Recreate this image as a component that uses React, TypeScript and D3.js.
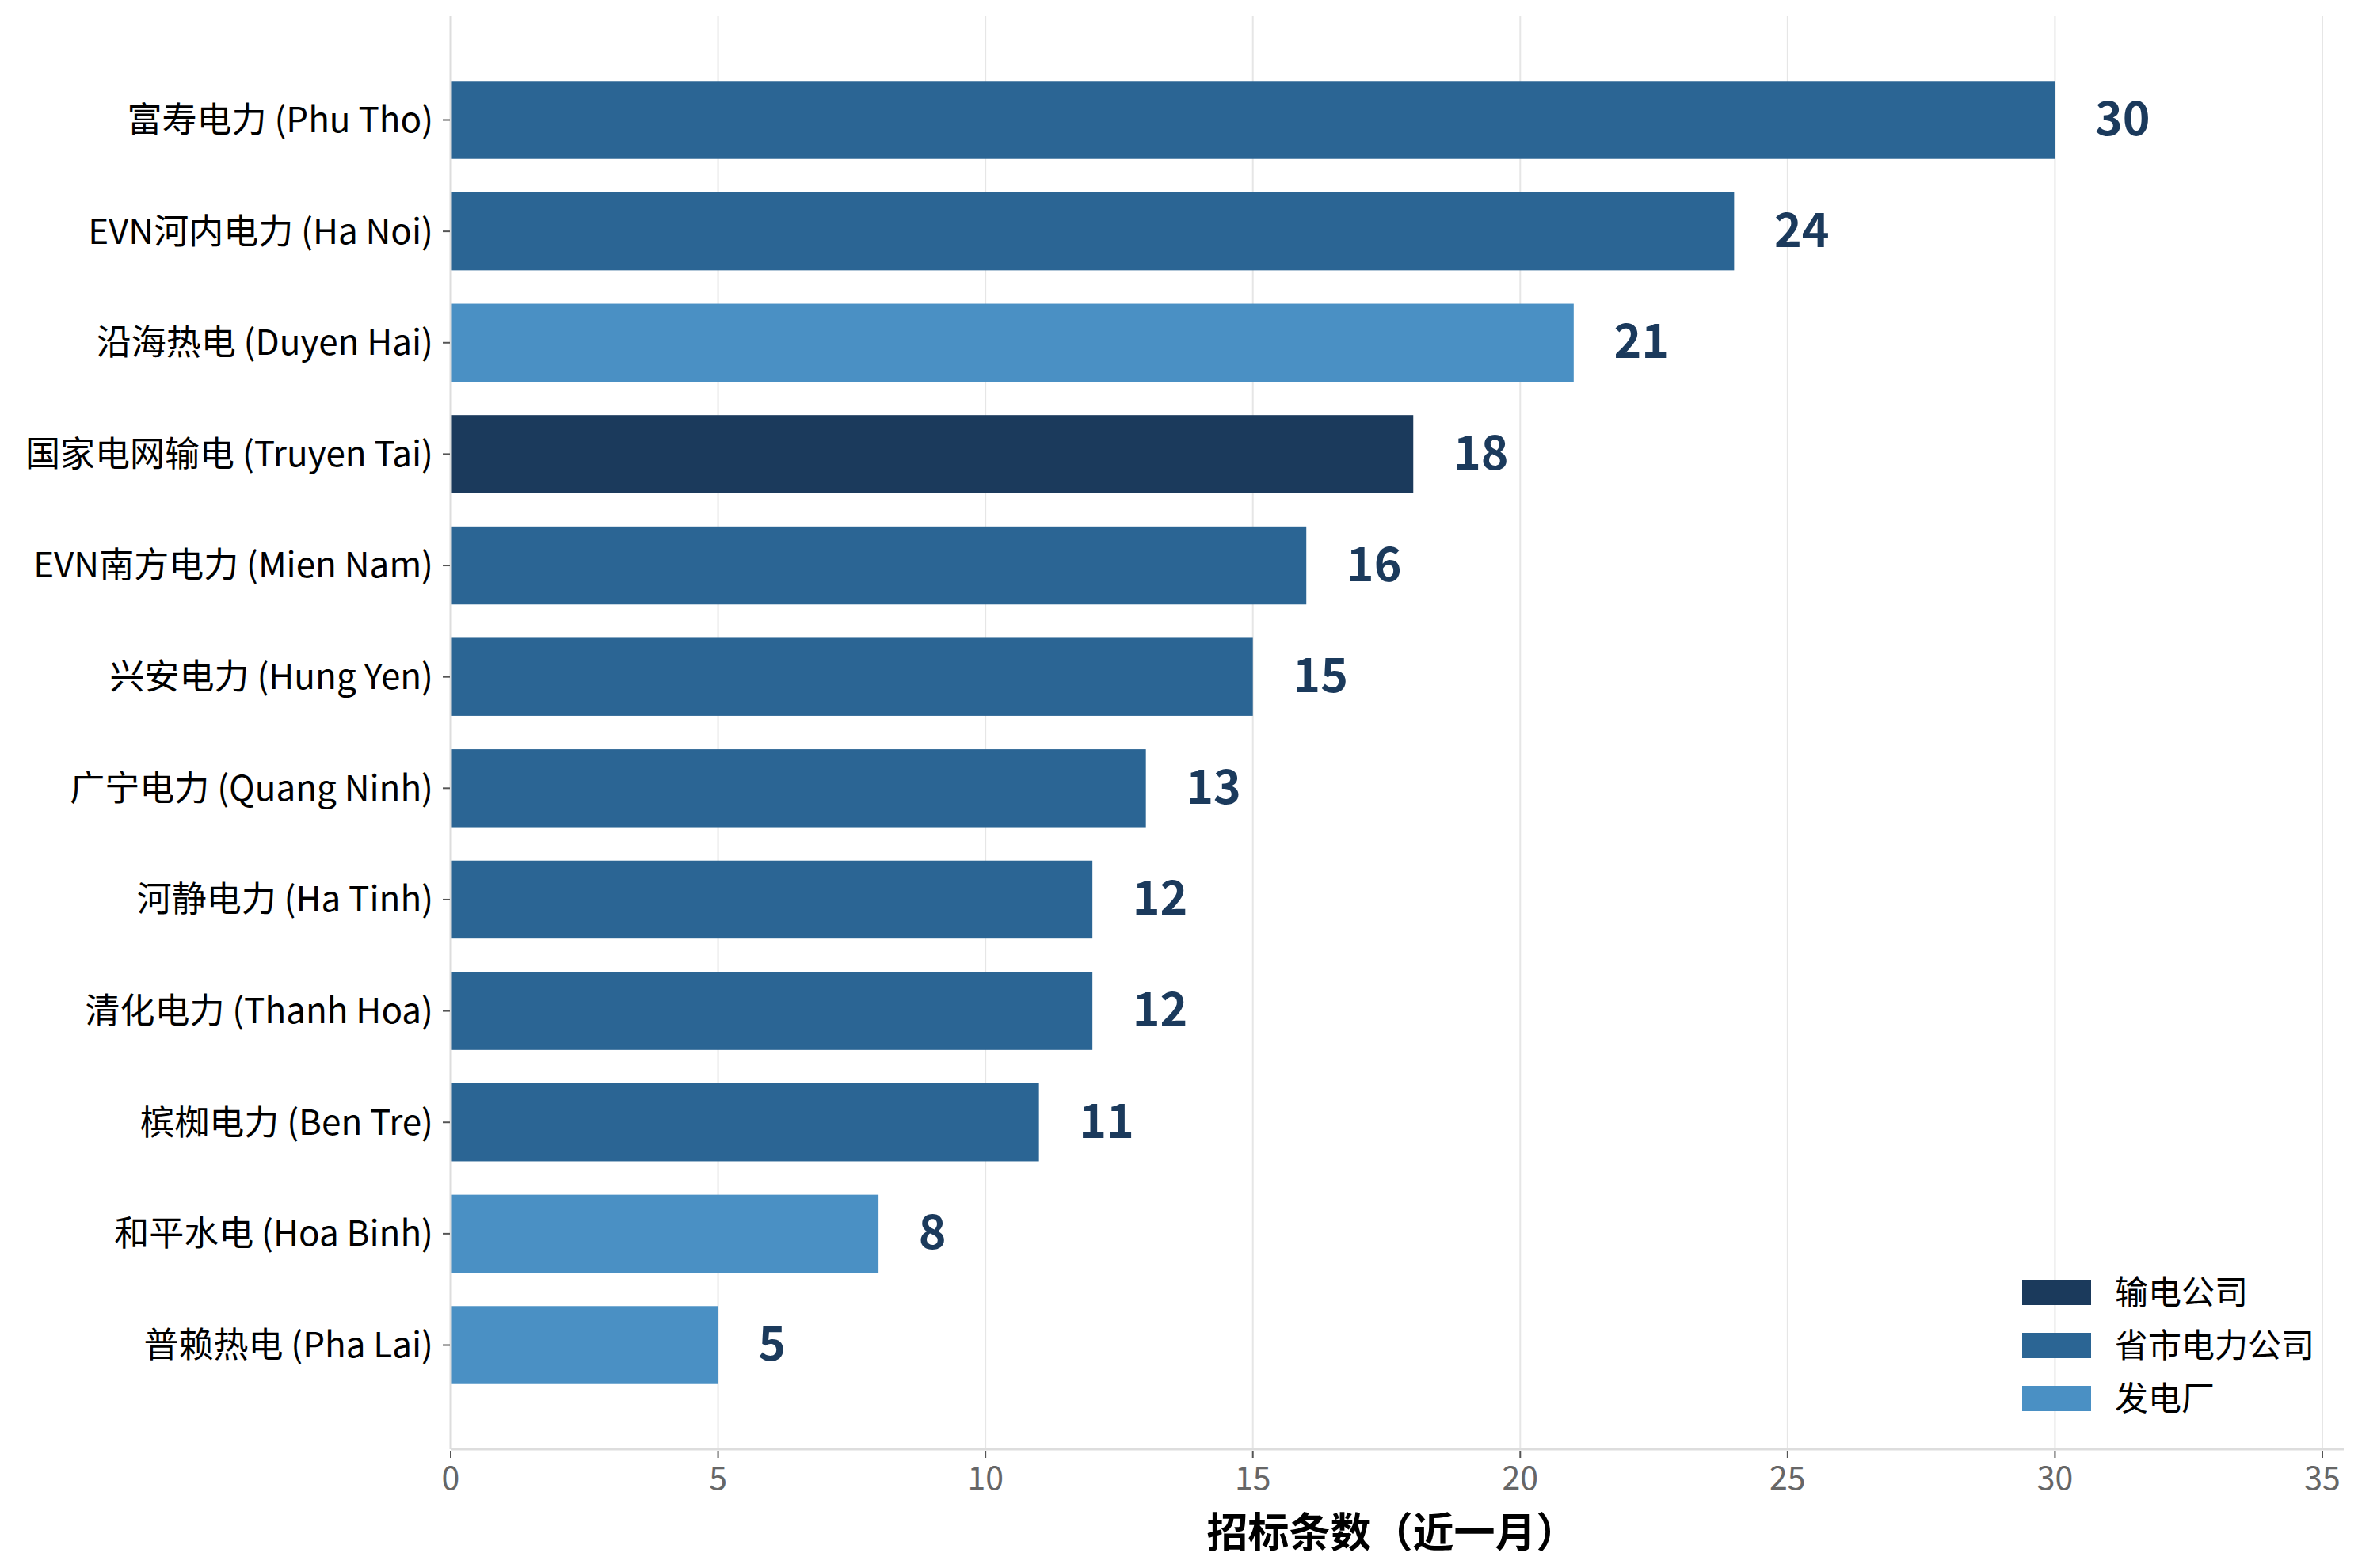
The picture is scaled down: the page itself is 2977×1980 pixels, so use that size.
// Horizontal bar chart: tender counts per power company (last month)
import React, { useEffect, useRef } from 'react';
import * as d3 from 'd3';

const companies = [
  '富寿电力 (Phu Tho)',
  'EVN河内电力 (Ha Noi)',
  '沿海热电 (Duyen Hai)',
  '国家电网输电 (Truyen Tai)',
  'EVN南方电力 (Mien Nam)',
  '兴安电力 (Hung Yen)',
  '广宁电力 (Quang Ninh)',
  '河静电力 (Ha Tinh)',
  '清化电力 (Thanh Hoa)',
  '槟椥电力 (Ben Tre)',
  '和平水电 (Hoa Binh)',
  '普赖热电 (Pha Lai)',
];
const tenderCounts = [30, 24, 21, 18, 16, 15, 13, 12, 12, 11, 8, 5];
const companyTypes = [
  '省市电力公司',
  '省市电力公司',
  '发电厂',
  '输电公司',
  '省市电力公司',
  '省市电力公司',
  '省市电力公司',
  '省市电力公司',
  '省市电力公司',
  '省市电力公司',
  '发电厂',
  '发电厂',
];
const legendTypes = ['输电公司', '省市电力公司', '发电厂'];
const typeColors = ['#1b3a5c', '#2b6594', '#4a90c4'];
const xTicks = [0, 5, 10, 15, 20, 25, 30, 35];

const FONT = '"Noto Sans CJK SC", "Noto Sans", sans-serif';

const App: React.FC = () => {
  const svgRef = useRef<SVGSVGElement>(null);

  useEffect(() => {
    document.body.style.margin = '0';
    const svg = d3.select(svgRef.current);
    svg.selectAll('*').remove();

    const width = 2977;
    const height = 1980;
    const margin = { top: 20, right: 18, bottom: 150, left: 569 };
    const barH = 0.7;

    const xScale = d3
      .scaleLinear()
      .domain([0, d3.max(tenderCounts)! * 1.18])
      .range([margin.left, width - margin.right]);

    // matplotlib-like y limits around the bar positions
    const n = companies.length;
    const pad = 0.05 * (n - 1 + barH);
    const yScale = d3
      .scaleLinear()
      .domain([-barH / 2 - pad, n - 1 + barH / 2 + pad])
      .range([margin.top, height - margin.bottom]);

    const color = d3.scaleOrdinal<string, string>().domain(legendTypes).range(typeColors);

    // grid
    svg
      .append('g')
      .selectAll('line')
      .data(xTicks)
      .join('line')
      .attr('x1', (d) => xScale(d))
      .attr('x2', (d) => xScale(d))
      .attr('y1', margin.top)
      .attr('y2', height - margin.bottom)
      .attr('stroke', '#e6e6e6')
      .attr('stroke-width', 2);

    // bars
    svg
      .append('g')
      .selectAll('rect')
      .data(tenderCounts)
      .join('rect')
      .attr('x', xScale(0))
      .attr('y', (_, i) => yScale(i - barH / 2))
      .attr('width', (d) => xScale(d) - xScale(0))
      .attr('height', yScale(barH) - yScale(0))
      .attr('fill', (_, i) => color(companyTypes[i]));

    // value labels
    svg
      .append('g')
      .selectAll('text')
      .data(tenderCounts)
      .join('text')
      .attr('x', (d) => xScale(d + 0.75))
      .attr('y', (_, i) => yScale(i))
      .attr('dy', '0.33em')
      .attr('fill', '#1b3a5c')
      .style('font-family', FONT)
      .style('font-size', '59px')
      .style('font-weight', '700')
      .text((d) => String(d));

    // spines
    svg
      .append('line')
      .attr('x1', margin.left)
      .attr('x2', margin.left)
      .attr('y1', margin.top)
      .attr('y2', height - margin.bottom)
      .attr('stroke', '#dddddd')
      .attr('stroke-width', 3);
    svg
      .append('line')
      .attr('x1', margin.left)
      .attr('x2', width - margin.right)
      .attr('y1', height - margin.bottom)
      .attr('y2', height - margin.bottom)
      .attr('stroke', '#dddddd')
      .attr('stroke-width', 3);

    // x axis ticks + labels
    const xAxis = svg.append('g');
    xAxis
      .selectAll('line')
      .data(xTicks)
      .join('line')
      .attr('x1', (d) => xScale(d))
      .attr('x2', (d) => xScale(d))
      .attr('y1', height - margin.bottom + 2)
      .attr('y2', height - margin.bottom + 11)
      .attr('stroke', '#555')
      .attr('stroke-width', 2);
    xAxis
      .selectAll('text')
      .data(xTicks)
      .join('text')
      .attr('x', (d) => xScale(d))
      .attr('y', height - margin.bottom + 37)
      .attr('dy', '0.35em')
      .attr('text-anchor', 'middle')
      .attr('fill', '#666666')
      .style('font-family', FONT)
      .style('font-size', '41px')
      .text((d) => String(d));

    svg
      .append('text')
      .attr('x', (xScale(0) + xScale(35)) / 2 + 7)
      .attr('y', height - margin.bottom + 106)
      .attr('dy', '0.35em')
      .attr('text-anchor', 'middle')
      .attr('fill', '#000')
      .style('font-family', FONT)
      .style('font-size', '52px')
      .style('font-weight', '700')
      .text('招标条数（近一月）');

    // y axis ticks + labels
    const yAxis = svg.append('g');
    yAxis
      .selectAll('line')
      .data(companies)
      .join('line')
      .attr('x1', margin.left - 10)
      .attr('x2', margin.left - 1)
      .attr('y1', (_, i) => yScale(i))
      .attr('y2', (_, i) => yScale(i))
      .attr('stroke', '#555')
      .attr('stroke-width', 2);
    yAxis
      .selectAll('text')
      .data(companies)
      .join('text')
      .attr('x', margin.left - 22)
      .attr('y', (_, i) => yScale(i))
      .attr('dy', '0.35em')
      .attr('text-anchor', 'end')
      .attr('fill', '#000')
      .style('font-family', FONT)
      .style('font-size', '44px')
      .text((d) => d);

    // legend
    const legend = svg.append('g').attr('transform', 'translate(2553, 1616)');
    legendTypes.forEach((t, i) => {
      legend
        .append('rect')
        .attr('x', 0)
        .attr('y', i * 67)
        .attr('width', 87)
        .attr('height', 32)
        .attr('fill', color(t));
      legend
        .append('text')
        .attr('x', 117)
        .attr('y', i * 67 + 16)
        .attr('dy', '0.35em')
        .attr('fill', '#000')
        .style('font-family', FONT)
        .style('font-size', '42px')
        .text(t);
    });
  }, []);

  return <svg ref={svgRef} width={2977} height={1980} style={{ display: 'block', background: '#fff' }} />;
};

export default App;
